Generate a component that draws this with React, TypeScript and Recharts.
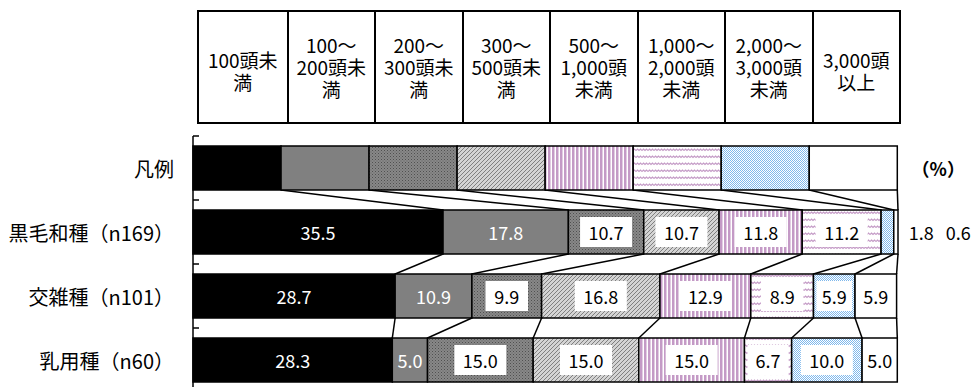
import { BarChart, Bar, XAxis, YAxis, LabelList } from 'recharts'

// 飼養規模別の構成比（%）
const breeds = ['凡例', '黒毛和種（n169）', '交雑種（n101）', '乳用種（n60）']
const under100 = [12.5, 35.5, 28.7, 28.3]
const from100 = [12.5, 17.8, 10.9, 5.0]
const from200 = [12.5, 10.7, 9.9, 15.0]
const from300 = [12.5, 10.7, 16.8, 15.0]
const from500 = [12.5, 11.8, 12.9, 15.0]
const from1000 = [12.5, 11.2, 8.9, 6.7]
const from2000 = [12.5, 1.8, 5.9, 10.0]
const over3000 = [12.5, 0.6, 5.9, 5.0]

const sizeLabels = [
  ['100頭未', '満'],
  ['100～', '200頭未', '満'],
  ['200～', '300頭未', '満'],
  ['300～', '500頭未', '満'],
  ['500～', '1,000頭', '未満'],
  ['1,000～', '2,000頭', '未満'],
  ['2,000～', '3,000頭', '未満'],
  ['3,000頭', '以上'],
]

const seriesValues = [under100, from100, from200, from300, from500, from1000, from2000, over3000]

const FONT = '"Noto Sans CJK JP", "Noto Sans", sans-serif'
const W = 975
const H = 400
const MARGIN = { top: 136, right: 77, bottom: 8, left: 0 }
const AXIS_W = 193
const BAND = (H - MARGIN.top - MARGIN.bottom) / breeds.length

// fill + how the value label is drawn
const series = [
  { fill: '#000000', label: 'white' },
  { fill: '#808080', label: 'white' },
  { fill: 'url(#pDots)', label: 'box' },
  { fill: 'url(#pDiag)', label: 'box' },
  { fill: 'url(#pVert)', label: 'box' },
  { fill: 'url(#pWave)', label: 'box' },
  { fill: 'url(#pBlue)', label: 'box' },
  { fill: '#ffffff', label: 'plain' },
]

const data = breeds.map((name, i) => {
  const row: Record<string, string | number> = { name }
  seriesValues.forEach((vals, k) => {
    row[`s${k}`] = vals[i]
  })
  return row
})

const cum = (row: number, k: number) => {
  let s = 0
  for (let j = 0; j <= k; j++) s += seriesValues[j][row]
  return s
}

function makeShape(k: number) {
  return (props: any) => {
    const { x, y, width, height, fill, payload } = props
    const row = breeds.indexOf(payload?.name)
    const v = seriesValues[k][row]
    let link = null
    if (row >= 0 && row < breeds.length - 1 && v > 0) {
      const ppu = width / v
      const left = x + width - cum(row, k) * ppu
      const nx = left + cum(row + 1, k) * ppu
      link = (
        <line x1={x + width} y1={y + height} x2={nx} y2={y + BAND} stroke="#000" strokeWidth={1.5} />
      )
    }
    return (
      <g>
        <rect x={x} y={y} width={width} height={height} fill={fill} stroke="#000" strokeWidth={1.5} />
        {link}
      </g>
    )
  }
}

function makeLabel(k: number) {
  return (props: any) => {
    const { x, y, width, height, index } = props
    const v = seriesValues[k][index]
    const cy = y + height / 2
    if (index === 0) {
      if (k !== seriesValues.length - 1) return null
      return (
        <text x={x + width + 41} y={cy} textAnchor="middle" dominantBaseline="central"
          fontSize={18} fontWeight="bold" fontFamily={FONT} fill="#000">（%）</text>
      )
    }
    const txt = v.toFixed(1)
    if (v < 3 && k >= 6) {
      const ppu = width / v
      const right = x + width - cum(index, k) * ppu + 100 * ppu
      return (
        <text x={right + 24 + (k - 6) * 37} y={cy} textAnchor="middle" dominantBaseline="central"
          fontSize={18} fontFamily={FONT} fill="#000">{txt}</text>
      )
    }
    const cx = x + width / 2
    const style = series[k].label
    if (style === 'white') {
      return (
        <text x={cx} y={cy} textAnchor="middle" dominantBaseline="central"
          fontSize={18} fontFamily={FONT} fill="#fff">{txt}</text>
      )
    }
    const bw = Math.min(txt.length * 9.5 + 14, width - 6)
    return (
      <g>
        {style === 'box' && <rect x={cx - bw / 2} y={cy - 15} width={bw} height={30} fill="#fff" />}
        <text x={cx} y={cy} textAnchor="middle" dominantBaseline="central"
          fontSize={18} fontFamily={FONT} fill="#000">{txt}</text>
      </g>
    )
  }
}

const BreedTick = (props: any) => {
  const { x, y, payload } = props
  return (
    <g>
      <text x={x} y={y} textAnchor="end" dominantBaseline="central" fontSize={20} fontFamily={FONT} fill="#000">
        {payload.value}
      </text>
      <line x1={AXIS_W} x2={AXIS_W + 6} y1={y - BAND / 2} y2={y - BAND / 2} stroke="#000" strokeWidth={1.5} />
    </g>
  )
}

function SizeHeader() {
  return (
    <div
      style={{
        position: 'absolute',
        left: 197,
        top: 10,
        width: 704,
        height: 114,
        display: 'grid',
        gridTemplateColumns: 'repeat(8, 1fr)',
        border: '2px solid #000',
        boxSizing: 'border-box',
        fontFamily: FONT,
        fontSize: 19,
        lineHeight: '22px',
        background: '#fff',
      }}
    >
      {sizeLabels.map((lines, i) => (
        <div
          key={i}
          style={{
            borderLeft: i === 0 ? 'none' : '2px solid #000',
            display: 'flex',
            justifyContent: 'center',
            alignItems: 'center',
            textAlign: 'center',
            whiteSpace: 'pre-line',
            paddingTop: lines.length === 2 ? 8 : 0,
          }}
        >
          {lines.join('\n')}
        </div>
      ))}
    </div>
  )
}

export default function App() {
  return (
    <div style={{ position: 'absolute', left: 0, top: 0, width: W, height: 387, overflow: 'hidden', background: '#fff' }}>
      <BarChart width={W} height={H} data={data} layout="vertical" margin={MARGIN} barCategoryGap={10}>
        <defs>
          <pattern id="pDots" width="3" height="3" patternUnits="userSpaceOnUse">
            <rect width="3" height="3" fill="#888" />
            <rect x="0" y="0" width="1" height="1" fill="#505050" />
            <rect x="1.5" y="1.5" width="1" height="1" fill="#606060" />
          </pattern>
          <pattern id="pDiag" width="4" height="4" patternUnits="userSpaceOnUse">
            <rect width="4" height="4" fill="#d4d4d4" />
            <path d="M-1,1 l2,-2 M0,4 l4,-4 M3,5 l2,-2" stroke="#808080" strokeWidth="1" />
          </pattern>
          <pattern id="pVert" width="4" height="4" patternUnits="userSpaceOnUse">
            <rect width="4" height="4" fill="#fff" />
            <rect x="0" y="0" width="2.5" height="4" fill="#c49ac6" />
          </pattern>
          <pattern id="pWave" width="6" height="7" patternUnits="userSpaceOnUse">
            <rect width="6" height="7" fill="#fff" />
            <path d="M0,3.5 l1.5,-1.5 l1.5,1.5 l1.5,-1.5 l1.5,1.5" stroke="#c49ac6" strokeWidth="1.2" fill="none" />
          </pattern>
          <pattern id="pBlue" width="2" height="2" patternUnits="userSpaceOnUse">
            <rect width="2" height="2" fill="#fff" />
            <rect x="0" y="0" width="1" height="1" fill="#7fb8ec" />
            <rect x="1" y="1" width="1" height="1" fill="#7fb8ec" />
          </pattern>
        </defs>
        <XAxis type="number" domain={[0, 100]} hide />
        <YAxis
          type="category"
          dataKey="name"
          width={AXIS_W}
          axisLine={{ stroke: '#000', strokeWidth: 1.5 }}
          tickLine={false}
          tickSize={0}
          tickMargin={19}
          tick={<BreedTick />}
          interval={0}
        />
        {series.map((s, k) => (
          <Bar
            key={k}
            dataKey={`s${k}`}
            stackId="a"
            fill={s.fill}
            shape={makeShape(k)}
            isAnimationActive={false}
          >
            <LabelList dataKey={`s${k}`} content={makeLabel(k)} />
          </Bar>
        ))}
      </BarChart>
      <SizeHeader />
    </div>
  )
}
